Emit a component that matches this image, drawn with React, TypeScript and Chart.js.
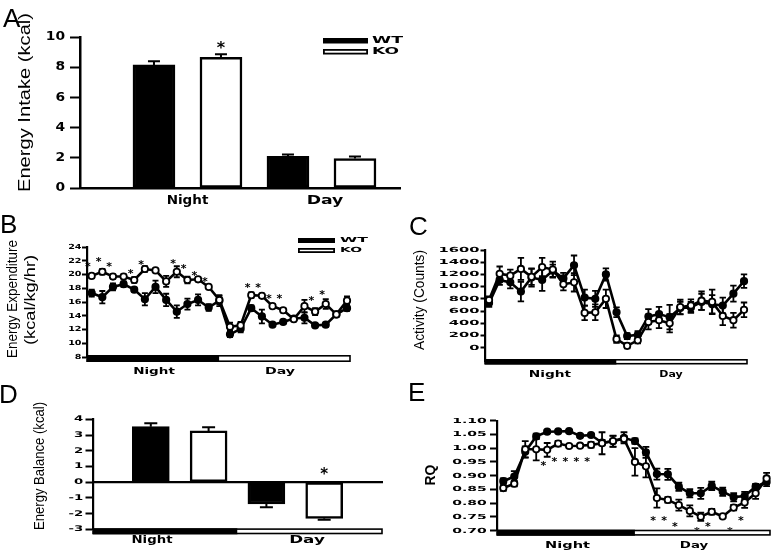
import React, { useEffect, useRef } from 'react';
import { Chart, registerables } from 'chart.js';

Chart.register(...registerables);

// ---------------- DATA ----------------
const periods = ['Night', 'Day'];
const groups = ['WT', 'KO'];

// A: Energy intake (kcal), [Night, Day]
const intakeWT = [8.15, 2.1];
const intakeWTErr = [0.25, 0.12];
const intakeKO = [8.65, 1.95];
const intakeKOErr = [0.2, 0.13];
const intakeTicks = [0, 2, 4, 6, 8, 10];
const intakeStarPeriod = [0];
const intakeStarY = [9.6];

// B: Energy expenditure (kcal/kg/hr), 25 time points
const eeWT = [17.3, 16.7, 18.2, 18.6, 17.8, 16.4, 18.2, 16.3, 14.6, 15.7, 16.3, 15.2, 16.2, 11.3, 12.1, 15.1, 13.9, 12.7, 13.1, 13.6, 13.7, 12.6, 12.7, 14.2, 15.1];
const eeWTErr = [0.5, 0.9, 0.5, 0.4, 0.3, 0.9, 0.9, 0.9, 0.9, 0.8, 0.8, 0.5, 0.8, 0.4, 0.5, 0.4, 1.0, 0.2, 0.3, 0.3, 0.8, 0.2, 0.3, 0.3, 0.4];
const eeKO = [19.8, 20.4, 19.7, 19.7, 19.2, 20.8, 20.6, 19.0, 20.4, 19.2, 19.3, 18.2, 16.3, 12.4, 12.6, 17.0, 16.9, 15.4, 14.8, 13.5, 15.4, 14.6, 15.7, 14.2, 16.2];
const eeKOErr = [0.3, 0.4, 0.3, 0.3, 0.4, 0.4, 0.2, 0.8, 0.8, 0.5, 0.3, 0.2, 0.6, 0.6, 0.5, 0.4, 0.3, 0.3, 0.3, 0.3, 0.9, 0.5, 0.7, 0.3, 0.6];
const eeTicks = [8, 10, 12, 14, 16, 18, 20, 22, 24];
const eeStarIdx = [0, 1, 2, 4, 5, 8, 9, 10, 11, 15, 16, 17, 18, 21, 22];
const eeStarY = [21.6, 22.3, 21.6, 20.6, 21.9, 22.0, 21.3, 20.3, 19.5, 18.6, 18.6, 16.9, 16.9, 16.6, 17.6];

// C: Activity (counts)
const actWT = [730, 1110, 1070, 920, 1150, 1110, 1260, 1135, 1350, 820, 800, 1200, 580, 190, 210, 510, 550, 500, 650, 660, 750, 710, 690, 885, 1090];
const actWTErr = [60, 80, 100, 160, 150, 180, 100, 90, 160, 130, 130, 100, 80, 50, 60, 120, 120, 200, 100, 90, 130, 150, 130, 130, 110];
const actKO = [780, 1210, 1180, 1290, 1160, 1320, 1280, 1040, 1070, 570, 580, 800, 140, 30, 120, 420, 450, 400, 665, 690, 770, 750, 520, 450, 620];
const actKOErr = [60, 120, 100, 180, 130, 150, 130, 100, 150, 120, 130, 150, 60, 40, 50, 120, 130, 150, 120, 100, 150, 200, 150, 120, 120];
const actTicks = [0, 200, 400, 600, 800, 1000, 1200, 1400, 1600];

// D: Energy balance (kcal), [Night, Day]
const balWT = [3.53, -1.39];
const balWTErr = [0.22, 0.2];
const balKO = [3.26, -2.3];
const balKOErr = [0.23, 0.1];
const balTicks = [-3, -2, -1, 0, 1, 2, 3, 4];
const balStarPeriod = [1];
const balStarY = [0.77];

// E: RQ
const rqWT = [0.880, 0.897, 0.987, 1.043, 1.060, 1.061, 1.062, 1.045, 1.048, 1.020, 1.025, 1.038, 1.026, 0.985, 0.906, 0.905, 0.860, 0.836, 0.836, 0.863, 0.842, 0.822, 0.826, 0.860, 0.877];
const rqWTErr = [0.01, 0.02, 0.02, 0.01, 0.005, 0.005, 0.005, 0.005, 0.005, 0.01, 0.02, 0.02, 0.01, 0.02, 0.02, 0.02, 0.015, 0.015, 0.02, 0.015, 0.015, 0.015, 0.015, 0.01, 0.015];
const rqKO = [0.855, 0.871, 0.996, 0.996, 0.994, 1.017, 1.008, 1.009, 1.012, 1.018, 1.026, 1.034, 0.950, 0.934, 0.819, 0.812, 0.793, 0.772, 0.751, 0.769, 0.752, 0.784, 0.803, 0.836, 0.890];
const rqKOErr = [0.01, 0.01, 0.03, 0.04, 0.025, 0.01, 0.005, 0.005, 0.01, 0.04, 0.02, 0.01, 0.05, 0.04, 0.035, 0.01, 0.02, 0.02, 0.015, 0.01, 0.005, 0.01, 0.02, 0.02, 0.02];
const rqTicks = [0.70, 0.75, 0.80, 0.85, 0.90, 0.95, 1.00, 1.05, 1.10];
const rqStarIdx = [4, 5, 6, 7, 8, 14, 15, 16, 18, 19, 21, 22];
const rqStarY = [0.947, 0.964, 0.964, 0.964, 0.964, 0.75, 0.75, 0.728, 0.71, 0.728, 0.71, 0.75];

// ---------------- LAYOUT ----------------
const FONT_B = '"DejaVu Sans", sans-serif';
const FONT_T = '"Liberation Sans", Arial, sans-serif';

type Box = { x: number; y: number; w: number; h: number };
type Area = { l: number; r: number; t: number; b: number };
type Lbl = { x: number; y: number; w: number; size: number };
type Legend = { x: number; w: number; h: number; ys: number[]; tx: number; tw: number[]; size: number };
type Panel = {
  box: Box; area: Area;
  xMin: number; xMax: number; yMin: number; yMax: number;
  ticks: number[]; tickLen: number; tickDec: number;
  tickSize: number; tickSx: number; tickRight: number;
  axisW: number;
  labels: Lbl[];
  bar?: { split: number; off: number; h: number };
  legend?: Legend;
  barW?: number; capW: number; starSize: number; starOff?: number;
};

const PA: Panel = {
  box: { x: 0, y: 0, w: 420, h: 212 }, area: { l: 80, r: 400, t: 37, b: 188 },
  xMin: -0.104, xMax: 4.672, yMin: 0, yMax: 10,
  ticks: intakeTicks, tickLen: 10, tickDec: 0, tickSize: 12, tickSx: 1.15, tickRight: 65, axisW: 2.5,
  labels: [{ x: 187.5, y: 201, w: 41.7, size: 12 }, { x: 325, y: 201, w: 36.7, size: 12 }],
  legend: { x: 323, w: 45, h: 5.5, ys: [38, 49], tx: 372, tw: [31, 27], size: 9.5 },
  barW: 42, capW: 6, starSize: 16,
};
const PB: Panel = {
  box: { x: 0, y: 210, w: 390, h: 175 }, area: { l: 87, r: 350, t: 247, b: 357 },
  xMin: -0.44, xMax: 24.28, yMin: 8, yMax: 24,
  ticks: eeTicks, tickLen: 5, tickDec: 0, tickSize: 7, tickSx: 1.37, tickRight: 81.5, axisW: 2.2,
  labels: [{ x: 154, y: 372, w: 41.7, size: 8.6 }, { x: 280, y: 372, w: 30, size: 8.6 }],
  bar: { split: 12, off: -2, h: 7 },
  legend: { x: 298, w: 37, h: 5, ys: [238, 248], tx: 340, tw: [28, 22], size: 7 },
  capW: 3, starSize: 11, starOff: -0.35,
};
const PC: Panel = {
  box: { x: 390, y: 210, w: 387, h: 175 }, area: { l: 485, r: 747, t: 250, b: 361 },
  xMin: -0.38, xMax: 24.28, yMin: -218, yMax: 1600,
  ticks: actTicks, tickLen: 4.5, tickDec: 0, tickSize: 7, tickSx: 2.1, tickRight: 479.5, axisW: 2.2,
  labels: [{ x: 550, y: 374.5, w: 42.3, size: 8 }, { x: 671, y: 374.5, w: 23.3, size: 8 }],
  bar: { split: 12, off: -2, h: 5.5 },
  capW: 3.2, starSize: 11,
};
const PD: Panel = {
  box: { x: 0, y: 382, w: 390, h: 170 }, area: { l: 93, r: 382, t: 419.3, b: 529.3 },
  xMin: 0, xMax: 5, yMin: -3, yMax: 4,
  ticks: balTicks, tickLen: 7.5, tickDec: 0, tickSize: 7.8, tickSx: 1.7, tickRight: 83.3, axisW: 2.2,
  labels: [{ x: 152, y: 540.3, w: 41, size: 10.4 }, { x: 307, y: 540.3, w: 35.7, size: 10.4 }],
  bar: { split: 2.5, off: -1, h: 6 },
  barW: 37, capW: 6.5, starSize: 15,
};
const PE: Panel = {
  box: { x: 390, y: 382, w: 387, h: 170 }, area: { l: 497, r: 770, t: 420.7, b: 530.7 },
  xMin: -0.574, xMax: 24.31, yMin: 0.70, yMax: 1.10,
  ticks: rqTicks, tickLen: 7, tickDec: 2, tickSize: 7, tickSx: 2.0, tickRight: 486.7, axisW: 2.2,
  labels: [{ x: 567.5, y: 545.7, w: 45, size: 9.3 }, { x: 694, y: 545.7, w: 28.3, size: 9.3 }],
  bar: { split: 12, off: -1, h: 6 },
  capW: 3.4, starSize: 11, starOff: -0.35,
};

const letters: [string, number, number][] = [
  ['A', 3, 27], ['B', 0, 233], ['C', 409, 235], ['D', -1, 403], ['E', 408, 401],
];
const titles = [
  { text: 'Energy Intake (kcal)', x: 25, y: 102.5, len: 179, size: 17, bold: false },
  { text: 'Energy Expenditure', x: 12.5, y: 299, len: 118, size: 15.5, bold: false },
  { text: '(kcal/kg/hr)', x: 30.5, y: 300, len: 90, size: 15.5, bold: false },
  { text: 'Activity (Counts)', x: 419.5, y: 300, len: 100, size: 15.5, bold: false },
  { text: 'Energy Balance (kcal)', x: 39.5, y: 466, len: 128, size: 15.5, bold: false },
  { text: 'RQ', x: 430.5, y: 475, len: 21, size: 15, bold: true },
];

// ---------------- HELPERS ----------------
type TO = { size: number; bold?: boolean; family?: string; width?: number; sx?: number; align?: CanvasTextAlign; baseline?: CanvasTextBaseline; rotate?: boolean };
function txt(ctx: CanvasRenderingContext2D, s: string, x: number, y: number, o: TO) {
  ctx.save();
  ctx.font = `${o.bold ? 'bold ' : ''}${o.size}px ${o.family || FONT_B}`;
  ctx.fillStyle = '#000';
  ctx.textBaseline = o.baseline || 'middle';
  ctx.textAlign = o.align || 'center';
  const m = ctx.measureText(s).width;
  const sx = o.width ? o.width / m : (o.sx || 1);
  ctx.translate(x, y);
  if (o.rotate) ctx.rotate(-Math.PI / 2);
  ctx.scale(sx, 1);
  ctx.fillText(s, 0, 0);
  ctx.restore();
}

function star(ctx: CanvasRenderingContext2D, x: number, y: number, size: number) {
  txt(ctx, '*', x, y + 0.6 * size, { size, bold: true, baseline: 'alphabetic' });
}

function errBar(ctx: CanvasRenderingContext2D, x: number, y1: number, y2: number, cap: number, capAt: number[]) {
  ctx.beginPath();
  ctx.moveTo(x, y1);
  ctx.lineTo(x, y2);
  capAt.forEach((cy) => { ctx.moveTo(x - cap, cy); ctx.lineTo(x + cap, cy); });
  ctx.stroke();
}

function baseOptions(P: Panel, xPos: any, xBorder: boolean) {
  return {
    animation: false as const,
    responsive: false,
    maintainAspectRatio: false,
    devicePixelRatio: 1,
    events: [] as any[],
    layout: {
      padding: {
        left: P.area.l - P.box.x,
        right: P.box.x + P.box.w - P.area.r,
        top: P.area.t - P.box.y,
        bottom: P.box.y + P.box.h - P.area.b,
      },
    },
    plugins: { legend: { display: false }, tooltip: { enabled: false }, title: { display: false } },
    scales: {
      x: {
        type: 'linear' as const, min: P.xMin, max: P.xMax, position: xPos,
        offset: false,
        ticks: { display: false },
        grid: { display: false, offset: false },
        border: { display: xBorder, width: P.axisW, color: '#000' },
        afterFit: (s: any) => { s.height = 0; },
      },
      y: {
        type: 'linear' as const, min: P.yMin, max: P.yMax,
        ticks: { display: false },
        afterBuildTicks: (s: any) => { s.ticks = P.ticks.map((v) => ({ value: v })); },
        grid: { display: true, drawOnChartArea: false, drawTicks: true, tickLength: P.tickLen, tickWidth: 2, tickColor: '#000', color: '#000' },
        border: { display: true, width: P.axisW, color: '#000' },
        afterFit: (s: any) => { s.width = 0; },
      },
    },
  };
}

function drawCommon(chart: any, P: Panel) {
  const ctx: CanvasRenderingContext2D = chart.ctx;
  const xs = chart.scales.x, ys = chart.scales.y;
  const ox = P.box.x, oy = P.box.y;
  // tick labels
  P.ticks.forEach((v) => {
    txt(ctx, v.toFixed(P.tickDec), P.tickRight - ox, ys.getPixelForValue(v), { size: P.tickSize, bold: true, sx: P.tickSx, align: 'right' });
  });
  // period labels
  P.labels.forEach((l, i) => {
    txt(ctx, periods[i], l.x - ox, l.y - oy, { size: l.size, bold: true, width: l.w });
  });
  // night/day bar
  if (P.bar) {
    const ca = chart.chartArea;
    const top = ca.bottom + P.bar.off;
    const xm = xs.getPixelForValue(P.bar.split);
    ctx.save();
    ctx.fillStyle = '#000';
    ctx.fillRect(ca.left, top, xm - ca.left, P.bar.h);
    ctx.fillStyle = '#fff';
    ctx.fillRect(xm, top, ca.right - xm, P.bar.h);
    ctx.strokeStyle = '#000';
    ctx.lineWidth = 1.6;
    ctx.strokeRect(ca.left, top + 0.8, ca.right - ca.left, P.bar.h - 1.6);
    ctx.restore();
  }
  // legend
  if (P.legend) {
    const L = P.legend;
    ctx.save();
    L.ys.forEach((y, i) => {
      if (i === 0) {
        ctx.fillStyle = '#000';
        ctx.fillRect(L.x - ox, y - oy, L.w, L.h);
      } else {
        ctx.fillStyle = '#fff';
        ctx.fillRect(L.x - ox, y - oy, L.w, L.h);
        ctx.strokeStyle = '#000';
        ctx.lineWidth = 1.8;
        ctx.strokeRect(L.x - ox + 0.9, y - oy + 0.9, L.w - 1.8, L.h - 1.8);
      }
      txt(ctx, groups[i], L.tx - ox, y - oy + L.h / 2, { size: L.size, bold: true, width: L.tw[i], align: 'left' });
    });
    ctx.restore();
  }
}

function makeBarChart(cv: HTMLCanvasElement, P: Panel, wt: number[], wtE: number[], ko: number[], koE: number[], starPer: number[], starY: number[], xPos: any) {
  const mk = (label: string, arr: number[], g: number, fill: string) => ({
    label,
    data: arr.map((v, i) => ({ x: 1 + g + 2 * i, y: v })),
    backgroundColor: fill, borderColor: '#000', borderWidth: 2.5,
    borderSkipped: false, grouped: false, maxBarThickness: P.barW,
    categoryPercentage: 1, barPercentage: 1,
  });
  const series = [[wt, wtE], [ko, koE]];
  const plugin = {
    id: 'decorBar',
    afterDatasetsDraw(chart: any) {
      const ctx: CanvasRenderingContext2D = chart.ctx;
      const xs = chart.scales.x, ys = chart.scales.y;
      ctx.save();
      ctx.strokeStyle = '#000';
      ctx.lineWidth = 2;
      series.forEach(([vals, errs], g) => {
        vals.forEach((v, i) => {
          const x = xs.getPixelForValue(1 + g + 2 * i);
          const y0 = ys.getPixelForValue(v);
          const y1 = ys.getPixelForValue(v + Math.sign(v) * errs[i]);
          errBar(ctx, x, y0, y1, P.capW, [y1]);
        });
      });
      ctx.restore();
      starPer.forEach((p, k) => {
        star(ctx, xs.getPixelForValue(2 + 2 * p), ys.getPixelForValue(starY[k]), P.starSize);
      });
    },
    afterDraw(chart: any) { drawCommon(chart, P); },
  };
  return new Chart(cv, {
    type: 'bar',
    data: { datasets: [mk(groups[0], wt, 0, '#000'), mk(groups[1], ko, 1, '#fff')] as any },
    options: baseOptions(P, xPos, true) as any,
    plugins: [plugin],
  });
}

function makeLineChart(cv: HTMLCanvasElement, P: Panel, wt: number[], wtE: number[], ko: number[], koE: number[], starIdx: number[], starY: number[]) {
  const mk = (label: string, arr: number[], fill: string, order: number) => ({
    label,
    data: arr.map((v, i) => ({ x: i, y: v })),
    borderColor: '#000', borderWidth: 2.6, tension: 0,
    pointRadius: 3.2, pointBorderWidth: 1.8, pointBackgroundColor: fill, pointBorderColor: '#000',
    order, clip: false as const,
  });
  const series = [[wt, wtE], [ko, koE]];
  const plugin = {
    id: 'decorLine',
    beforeDatasetsDraw(chart: any) {
      const ctx: CanvasRenderingContext2D = chart.ctx;
      const xs = chart.scales.x, ys = chart.scales.y;
      ctx.save();
      ctx.strokeStyle = '#000';
      ctx.lineWidth = 1.8;
      series.forEach(([vals, errs]) => {
        vals.forEach((v, i) => {
          const x = xs.getPixelForValue(i);
          const y1 = ys.getPixelForValue(v + errs[i]);
          const y2 = ys.getPixelForValue(v - errs[i]);
          errBar(ctx, x, y1, y2, P.capW, [y1, y2]);
        });
      });
      ctx.restore();
    },
    afterDatasetsDraw(chart: any) {
      const ctx: CanvasRenderingContext2D = chart.ctx;
      const xs = chart.scales.x, ys = chart.scales.y;
      starIdx.forEach((i, k) => {
        star(ctx, xs.getPixelForValue(i + (P.starOff || 0)), ys.getPixelForValue(starY[k]), P.starSize);
      });
    },
    afterDraw(chart: any) { drawCommon(chart, P); },
  };
  return new Chart(cv, {
    type: 'line',
    data: { datasets: [mk(groups[0], wt, '#000', 1), mk(groups[1], ko, '#fff', 0)] as any },
    options: baseOptions(P, 'bottom', false) as any,
    plugins: [plugin],
  });
}

function drawOverlay(cv: HTMLCanvasElement) {
  const ctx = cv.getContext('2d')!;
  ctx.clearRect(0, 0, cv.width, cv.height);
  ctx.fillStyle = '#000';
  letters.forEach(([s, x, y]) => {
    ctx.font = `26px ${FONT_T}`;
    ctx.textAlign = 'left';
    ctx.textBaseline = 'alphabetic';
    ctx.fillText(s, x, y);
  });
  titles.forEach((t) => {
    txt(ctx, t.text, t.x, t.y, { size: t.size, bold: t.bold, family: FONT_T, width: t.len, rotate: true });
  });
}

const panels = [PA, PB, PC, PD, PE];

export default function App() {
  const refs = [useRef<HTMLCanvasElement>(null), useRef<HTMLCanvasElement>(null), useRef<HTMLCanvasElement>(null), useRef<HTMLCanvasElement>(null), useRef<HTMLCanvasElement>(null)];
  const overlay = useRef<HTMLCanvasElement>(null);

  useEffect(() => {
    const charts: Chart[] = [];
    charts.push(makeBarChart(refs[0].current!, PA, intakeWT, intakeWTErr, intakeKO, intakeKOErr, intakeStarPeriod, intakeStarY, 'bottom'));
    charts.push(makeLineChart(refs[1].current!, PB, eeWT, eeWTErr, eeKO, eeKOErr, eeStarIdx, eeStarY));
    charts.push(makeLineChart(refs[2].current!, PC, actWT, actWTErr, actKO, actKOErr, [], []));
    charts.push(makeBarChart(refs[3].current!, PD, balWT, balWTErr, balKO, balKOErr, balStarPeriod, balStarY, { y: 0 }));
    charts.push(makeLineChart(refs[4].current!, PE, rqWT, rqWTErr, rqKO, rqKOErr, rqStarIdx, rqStarY));
    drawOverlay(overlay.current!);
    return () => { charts.forEach((c) => c.destroy()); };
  }, []);

  return (
    <div style={{ position: 'absolute', left: 0, top: 0, width: 777, height: 552, background: '#fff', overflow: 'hidden' }}>
      {panels.map((P, i) => (
        <canvas
          key={i}
          ref={refs[i]}
          width={P.box.w}
          height={P.box.h}
          style={{ position: 'absolute', left: P.box.x, top: P.box.y, width: P.box.w, height: P.box.h }}
        />
      ))}
      <canvas
        ref={overlay}
        width={777}
        height={552}
        style={{ position: 'absolute', left: 0, top: 0, width: 777, height: 552, pointerEvents: 'none' }}
      />
    </div>
  );
}
